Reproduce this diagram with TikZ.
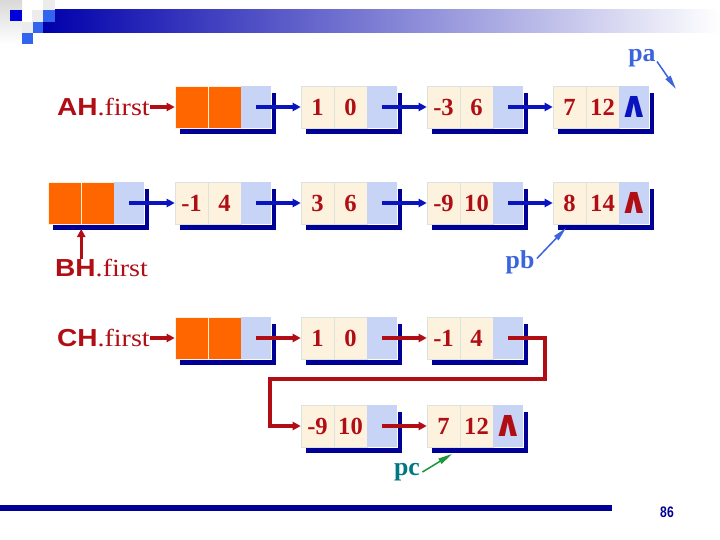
\documentclass[tikz,border=0pt]{standalone}
\usepackage{fontspec}
\setmainfont{Liberation Serif}
\setsansfont{Liberation Sans}
\newfontfamily\symfont{DejaVu Sans}
\usetikzlibrary{arrows.meta, positioning, calc}
\definecolor{mydred}{RGB}{176, 14, 20}
\definecolor{myblue}{RGB}{10, 20, 190}
\definecolor{mynavy}{RGB}{0, 0, 150}
\definecolor{mycream}{RGB}{252, 242, 222}
\definecolor{mylav}{RGB}{200, 212, 246}
\definecolor{myorange}{RGB}{255, 102, 0}
\definecolor{myroyal}{RGB}{50, 100, 240}
\definecolor{mypblue}{RGB}{60, 100, 220}
\definecolor{mygreen}{RGB}{30, 150, 60}
\definecolor{myteal}{RGB}{0, 120, 130}

\tikzset{
  datacell/.style={draw=green!10!gray!25, fill=mycream, minimum width=0.99cm, minimum height=1.26cm, inner sep=0pt, text=mydred, font=\fontsize{21}{24}\selectfont\bfseries},
  headcell/.style={datacell, fill=myorange, draw=mycream},
  ptrcell/.style={fill=mylav, minimum width=0.9cm, minimum height=1.26cm, inner sep=0pt, font=\symfont\bfseries\fontsize{31}{31}\selectfont},
  shadowline/.style={draw=mynavy, line width=4.2pt},
  bluelink/.style={draw=myblue, line width=3.2pt, -{Triangle[length=7pt,width=7pt]}},
  redlink/.style={bluelink, draw=mydred},
  headlbl/.style={text=mydred, inner sep=0pt, font=\fontsize{21}{24}\selectfont},
  ptrlbl/.style={inner sep=0pt, font=\fontsize{22}{24}\selectfont\bfseries},
  ptrarrow/.style={line width=1.3pt, -{Triangle[length=12pt,width=5pt]}}
}

% one list node: name, cell style, x, y, data 1, data 2, pointer text
\newcommand{\listnode}[7]{%
  \draw[shadowline] (#3+5,#4+45.5) -- (#3+99,#4+45.5) -- (#3+99,#4+7);
  \node[#2] (#1a) at (#3+16.5,#4+21) {#5};
  \node[#2] (#1b) at (#3+49.5,#4+21) {#6};
  \node[ptrcell] (#1p) at (#3+81,#4+21) {#7};}
\newcommand{\nil}[1]{\textcolor{#1}{∧}}
\newcommand{\headname}[1]{\scalebox{1.14}[1]{\textsf{\bfseries #1}.first}}

\begin{document}
\begin{tikzpicture}[x={(0.03cm,0)}, y={(0,-0.03cm)}]
  \useasboundingbox (0,0) rectangle (720,540);

  % --- slide decoration ---
  \shade[top color=gray!30, bottom color=white] (0,0) rectangle (22,44);
  \shade[left color=mynavy!80!blue, right color=white] (43,10) rectangle (720,33);
  \fill[blue!85!black] (10,10) rectangle (22,21);
  \fill[gray!15] (32,10) rectangle (43,22);
  \fill[gray!15] (43,0) rectangle (55,10);
  \fill[myroyal] (43,10) rectangle (55,22);
  \fill[gray!15] (22,22) rectangle (33,33);
  \fill[myroyal] (33,22) rectangle (43,33);
  \fill[myroyal] (22,33) rectangle (33,44);
  \fill[mynavy] (0,505) rectangle (612,511);
  \node[text=mynavy, font=\sffamily\bfseries\fontsize{13}{14}\selectfont] (pg) at (667,512) {\scalebox{0.8}[1]{86}};

  % --- list A ---
  \listnode{h1}{headcell}{175}{86}{}{}{}
  \listnode{a1}{datacell}{301}{86}{1}{0}{}
  \listnode{a2}{datacell}{427}{86}{-3}{6}{}
  \listnode{a3}{datacell}{553}{86}{7}{12}{\nil{myblue}}
  \node[headlbl, anchor=east] (ah) at (150,107) {\headname{AH}};
  \draw[redlink, line width=2.6pt] (ah.east) -- (h1a.west);
  \draw[bluelink] (h1p.center) -- (a1a.west);
  \draw[bluelink] (a1p.center) -- (a2a.west);
  \draw[bluelink] (a2p.center) -- (a3a.west);

  % --- list B ---
  \listnode{h2}{headcell}{48}{182}{}{}{}
  \listnode{b1}{datacell}{175}{182}{-1}{4}{}
  \listnode{b2}{datacell}{301}{182}{3}{6}{}
  \listnode{b3}{datacell}{427}{182}{-9}{10}{}
  \listnode{b4}{datacell}{553}{182}{8}{14}{\nil{mydred}}
  \node[headlbl, anchor=west] (bh) at (55,268) {\headname{BH}};
  \draw[redlink, line width=2.6pt] (bh.north -| h2a.south east) -- ([yshift=-4pt]h2a.south east);
  \draw[bluelink] (h2p.center) -- (b1a.west);
  \draw[bluelink] (b1p.center) -- (b2a.west);
  \draw[bluelink] (b2p.center) -- (b3a.west);
  \draw[bluelink] (b3p.center) -- (b4a.west);

  % --- list C (result) ---
  \listnode{h3}{headcell}{175}{317}{}{}{}
  \listnode{c1}{datacell}{301}{317}{1}{0}{}
  \listnode{c2}{datacell}{427}{317}{-1}{4}{}
  \listnode{c3}{datacell}{301}{405}{-9}{10}{}
  \listnode{c4}{datacell}{427}{405}{7}{12}{\nil{mydred}}
  \node[headlbl, anchor=east] (ch) at (150,338) {\headname{CH}};
  \draw[redlink, line width=2.6pt] (ch.east) -- (h3a.west);
  \draw[redlink] (h3p.center) -- (c1a.west);
  \draw[redlink] (c1p.center) -- (c2a.west);
  \draw[redlink] (c2p.center) -- ++(37,0) -- ++(0,41) -- ++(-275,0) |- (c3a.west);
  \draw[redlink] (c3p.center) -- (c4a.west);

  % --- working pointers ---
  \node[ptrlbl, text=mypblue] (pa) at (642,58) {pa};
  \node[ptrlbl, text=mypblue] (pb) at (520,262) {pb};
  \node[ptrlbl, text=myteal] (pc) at (407,472) {pc};
  \coordinate (paend) at (676,89);
  \coordinate (pbend) at (566,228);
  \coordinate (pcend) at (452,454);
  \draw[ptrarrow, draw=mypblue, fill=mypblue] ([shift={(1pt,-3pt)}]pa.east) -- (paend);
  \draw[ptrarrow, draw=mypblue, fill=mypblue] ([shift={(2pt,3pt)}]pb.east) -- (pbend);
  \draw[ptrarrow, draw=mygreen, fill=mygreen] ([shift={(2pt,0pt)}]pc.east) -- (pcend);
\end{tikzpicture}
\end{document}
